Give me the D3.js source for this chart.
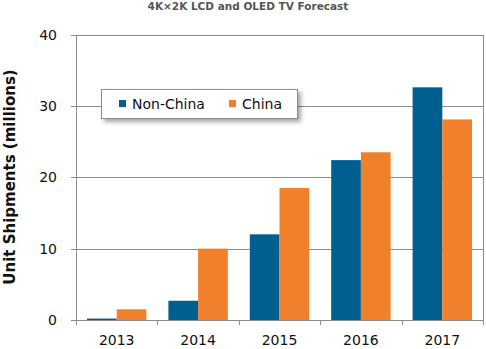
<!DOCTYPE html>
<html>
<head>
<meta charset="utf-8">
<script src="https://cdn.jsdelivr.net/npm/d3@7.9.0/dist/d3.min.js"></script>
<style>
  body { margin: 0; background: #fff; }
  svg { font-family: "DejaVu Sans", Verdana, sans-serif; }
</style>
</head>
<body>
<svg id="chart" width="486" height="349"></svg>
<script>
// data
const years     = ['2013', '2014', '2015', '2016', '2017'];
const series    = ['Non-China', 'China'];
const nonChina  = [0.2, 2.7, 12.0, 22.4, 32.6];
const china     = [1.5, 10.0, 18.5, 23.5, 28.1];
const yTicks    = [0, 10, 20, 30, 40];
const colors    = ['#005f8f', '#f0802b'];

const rows = years.map((y, i) => ({ year: y, values: [nonChina[i], china[i]] }));

const svg = d3.select('#chart');
const plotL = 76, plotR = 483, plotT = 34.5, plotB = 320;

const x = d3.scaleBand().domain(years).range([plotL, plotR])
  .paddingInner(0.27).paddingOuter(0.135);
const xs = d3.scaleBand().domain(series).range([0, x.bandwidth()]);
const y = d3.scaleLinear().domain([0, 40]).range([plotB, plotT]);

const grey = '#8c8c8c';

// gridlines
svg.append('g').selectAll('line').data(yTicks).join('line')
  .attr('x1', plotL - 5).attr('x2', plotR)
  .attr('y1', d => Math.round(y(d)) + 0.5).attr('y2', d => Math.round(y(d)) + 0.5)
  .attr('stroke', grey).attr('stroke-width', 1);

// right border
svg.append('line')
  .attr('x1', plotR + 0.5).attr('x2', plotR + 0.5)
  .attr('y1', Math.round(y(40))).attr('y2', plotB + 5)
  .attr('stroke', grey);

// bars
svg.append('g').selectAll('g').data(rows).join('g')
  .attr('transform', d => `translate(${x(d.year)},0)`)
  .selectAll('rect').data(d => d.values).join('rect')
  .attr('x', (d, i) => xs(series[i]))
  .attr('width', xs.bandwidth())
  .attr('y', d => y(d))
  .attr('height', d => plotB - y(d))
  .attr('fill', (d, i) => colors[i]);

// left axis line + bottom tick marks
svg.append('line')
  .attr('x1', plotL + 0.5).attr('x2', plotL + 0.5)
  .attr('y1', Math.round(y(40))).attr('y2', plotB + 5)
  .attr('stroke', grey);
svg.append('g').selectAll('line').data(d3.range(years.length + 1)).join('line')
  .attr('x1', i => Math.round(plotL + i * (plotR - plotL) / years.length) + 0.5)
  .attr('x2', i => Math.round(plotL + i * (plotR - plotL) / years.length) + 0.5)
  .attr('y1', plotB).attr('y2', plotB + 5)
  .attr('stroke', grey);

// y tick labels
svg.append('g').selectAll('text').data(yTicks).join('text')
  .attr('x', 57).attr('y', d => y(d))
  .attr('dy', '0.36em')
  .attr('text-anchor', 'end')
  .attr('font-size', 14).attr('fill', '#111')
  .text(d => d);

// x labels
svg.append('g').selectAll('text').data(years).join('text')
  .attr('x', d => x(d) + x.bandwidth() / 2)
  .attr('y', 345)
  .attr('text-anchor', 'middle')
  .attr('font-size', 14).attr('fill', '#111')
  .text(d => d);

// title
svg.append('text')
  .attr('x', 248).attr('y', 10)
  .attr('text-anchor', 'middle')
  .attr('font-size', 10.5).attr('font-weight', 'bold').attr('fill', '#555')
  .text('4K×2K LCD and OLED TV Forecast');

// y axis title
svg.append('text')
  .attr('transform', 'translate(15,177) rotate(-90)')
  .attr('text-anchor', 'middle')
  .attr('font-size', 15).attr('font-weight', 'bold').attr('fill', '#111')
  .text('Unit Shipments (millions)');

// legend
const defs = svg.append('defs');
const f = defs.append('filter').attr('id', 'sh').attr('x', '-10%').attr('y', '-20%').attr('width', '130%').attr('height', '160%');
f.append('feDropShadow').attr('dx', 3).attr('dy', 3).attr('stdDeviation', 2).attr('flood-color', '#000').attr('flood-opacity', 0.35);
const lg = svg.append('g');
lg.append('rect')
  .attr('x', 101.5).attr('y', 89.5).attr('width', 196).attr('height', 29)
  .attr('fill', '#fff').attr('stroke', grey).attr('filter', 'url(#sh)');
const legX = [119, 229];
series.forEach((s, i) => {
  lg.append('rect').attr('x', legX[i]).attr('y', 100).attr('width', 7).attr('height', 7)
    .attr('fill', colors[i]);
  lg.append('text').attr('x', legX[i] + 13).attr('y', 104).attr('dy', '0.36em')
    .attr('font-size', 14).attr('fill', '#111').text(s);
});
</script>
</body>
</html>
